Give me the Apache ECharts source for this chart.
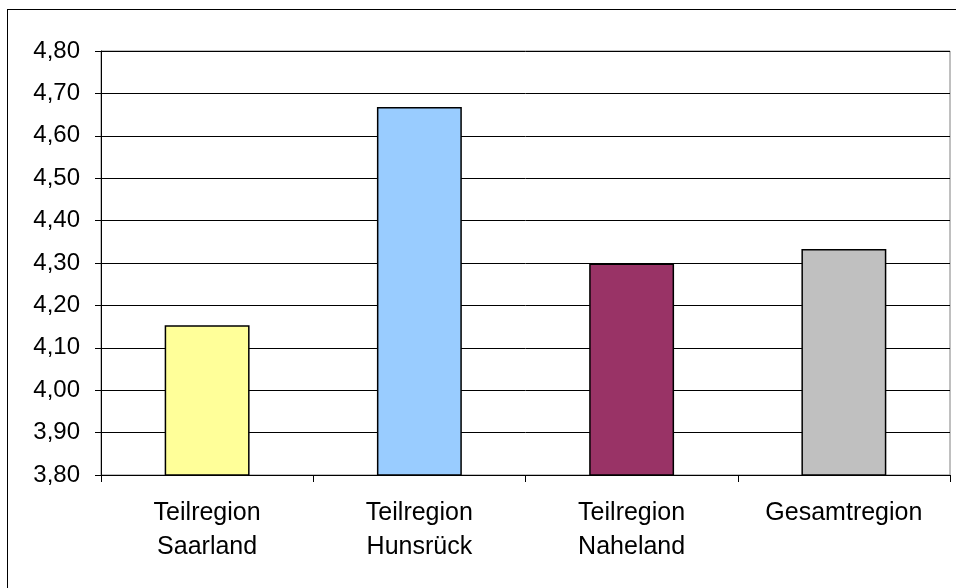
<!DOCTYPE html>
<html><head><meta charset="utf-8">
<script src="https://cdn.jsdelivr.net/npm/echarts@6/dist/echarts.min.js"></script>
<style>
html,body{margin:0;padding:0;background:#fff;}
#frame{position:absolute;left:7px;top:9px;width:1000px;height:1000px;border:1px solid #000;box-sizing:border-box;}
#c{position:absolute;left:0;top:0;width:956px;height:588px;}
</style></head>
<body>
<div id="frame"></div>
<div id="c"></div>
<script>
const categories = ['Teilregion\nSaarland', 'Teilregion\nHunsrück', 'Teilregion\nNaheland', 'Gesamtregion'];
const values = [4.153, 4.668, 4.299, 4.333];
const barColors = ['#FFFF99', '#99CCFF', '#993366', '#C0C0C0'];

const chart = echarts.init(document.getElementById('c'));
chart.setOption({
  animation: false,
  grid: {left: 101, right: 6, top: 51, bottom: 113, show: true, borderColor: '#808080', borderWidth: 1},
  xAxis: {
    type: 'category', data: categories,
    axisLine: {lineStyle: {color: '#000', width: 1}},
    axisTick: {show: true, length: 7, lineStyle: {color: '#000'}},
    axisLabel: {color: '#000', fontFamily: 'Liberation Sans, Arial', fontSize: 25, lineHeight: 34, margin: 21}
  },
  yAxis: {
    type: 'value', min: 3.8, max: 4.8, interval: 0.1,
    axisLine: {show: true, lineStyle: {color: '#000', width: 1}},
    axisTick: {show: true, length: 6, lineStyle: {color: '#000'}},
    splitLine: {show: true, lineStyle: {color: '#000', width: 1}},
    axisLabel: {color: '#000', fontFamily: 'Liberation Sans, Arial', fontSize: 24, margin: 21,
      formatter: v => v.toFixed(2).replace('.', ',')}
  },
  series: [{
    type: 'bar', barWidth: '40%',
    data: values.map((v, i) => ({value: v, itemStyle: {color: barColors[i]}})),
    itemStyle: {borderColor: '#000', borderWidth: 1.5}
  }]
});
</script>
</body></html>
